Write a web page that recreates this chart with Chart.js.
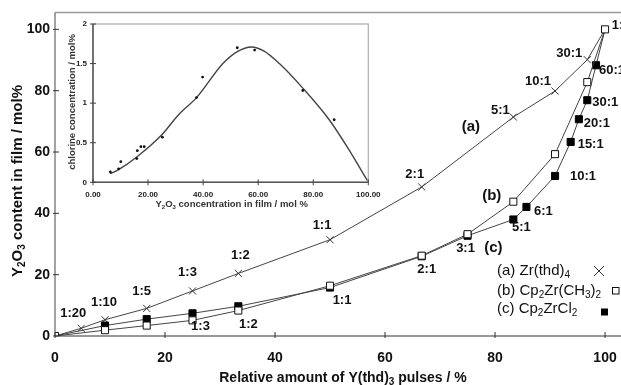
<!DOCTYPE html>
<html>
<head>
<meta charset="utf-8">
<script src="https://cdn.jsdelivr.net/npm/chart.js@4.4.1/dist/chart.umd.min.js"></script>
<style>
  html, body { margin: 0; padding: 0; background: #fff; }
  #wrap { position: relative; width: 621px; height: 385px; overflow: hidden; }
  #main { position: absolute; left: 0; top: 0; }
  #inset { position: absolute; left: 60px; top: 18px; }
</style>
</head>
<body>
<div id="wrap">
  <canvas id="main" width="621" height="385"></canvas>
  <canvas id="inset" width="335" height="195"></canvas>
</div>
<script>
// --- MAIN CHART DATA ---
const xTicks = [0, 20, 40, 60, 80, 100];
const yTicks = [0, 20, 40, 60, 80, 100];

// (a) Zr(thd)4
const xA = [0, 4.76, 9.09, 16.67, 25, 33.33, 50, 66.67, 83.33, 90.91, 96.77, 100];
const yA = [0, 2.5, 5.3, 9.0, 14.7, 20.4, 31.4, 48.6, 71.4, 79.9, 90.1, 100];
const labelsA = ['', '1:20', '1:10', '1:5', '1:3', '1:2', '1:1', '2:1', '5:1', '10:1', '30:1', '1:0'];

// (b) Cp2Zr(CH3)2
const xB = [0, 9.09, 16.67, 25, 33.33, 50, 66.67, 75, 83.33, 90.91, 96.77, 100];
const yB = [0, 1.9, 3.4, 5.1, 8.3, 16.4, 26.2, 33.2, 43.8, 59.3, 82.8, 100];
const labelsB = ['', '', '', '1:3', '1:2', '1:1', '2:1', '3:1', '', '', '', ''];

// (c) Cp2ZrCl2
const xC = [0, 9.09, 16.67, 25, 33.33, 50, 66.67, 75, 83.33, 85.71, 90.91, 93.75, 95.24, 96.77, 98.36, 100];
const yC = [0, 3.4, 5.5, 7.4, 9.7, 15.8, 26.0, 32.7, 38.0, 42.1, 52.2, 63.3, 70.7, 76.9, 88.3, 100];
const labelsC = ['', '', '', '', '', '', '', '', '5:1', '6:1', '10:1', '15:1', '20:1', '30:1', '60:1', ''];

// curve tags, in data units
const tagText = ['(a)', '(b)', '(c)'];
const tagX = [75.6, 79.4, 79.7];
const tagY = [68.2, 45.6, 28.6];

const legendText = ['(a) Zr(thd)_4', '(b) Cp_2Zr(CH_3)_2', '(c) Cp_2ZrCl_2'];

// --- INSET DATA (chlorine content) ---
const insetXTicks = [0, 20, 40, 60, 80, 100];
const insetYTicks = [0, 0.5, 1, 1.5, 2];
const dotX = [6.3, 9.3, 10.1, 15.9, 16.1, 17.4, 18.6, 25.2, 37.6, 39.8, 52.4, 58.7, 76.2, 87.6];
const dotY = [0.13, 0.17, 0.26, 0.30, 0.40, 0.45, 0.45, 0.57, 1.07, 1.33, 1.70, 1.67, 1.16, 0.79];
const fitX = [6.3, 9.3, 15.9, 25, 31, 37.6, 47.2, 52.4, 57.5, 62, 67.7, 76.2, 85.8, 93, 99.7];
const fitY = [0.11, 0.16, 0.32, 0.60, 0.85, 1.07, 1.50, 1.65, 1.71, 1.66, 1.50, 1.19, 0.79, 0.41, 0.02];

const FONT = '"Liberation Sans", Arial, Helvetica, sans-serif';
Chart.defaults.font.family = FONT;
Chart.defaults.color = '#111';

const pts = (xs, ys) => xs.map((x, i) => ({ x: x, y: ys[i] }));

// text with "_3" style subscripts
function richText(ctx, str, x, y, size, bold, align) {
    const parts = [];
    str.split(/(_\d)/).forEach(s => {
        if (!s) return;
        if (s[0] === '_') parts.push([s.slice(1), true]);
        else parts.push([s, false]);
    });
    const w = bold ? 'bold ' : '';
    const big = w + size + 'px ' + FONT;
    const small = w + Math.round(size * 0.68) + 'px ' + FONT;
    let total = 0;
    parts.forEach(p => { ctx.font = p[1] ? small : big; total += ctx.measureText(p[0]).width; });
    let cx = align === 'center' ? x - total / 2 : (align === 'right' ? x - total : x);
    ctx.textAlign = 'left';
    ctx.textBaseline = 'middle';
    parts.forEach(p => {
        ctx.font = p[1] ? small : big;
        ctx.fillText(p[0], cx, y + (p[1] ? size * 0.3 : 0));
        cx += ctx.measureText(p[0]).width;
    });
}

// crossing ticks and tick labels drawn from the scales
function drawAxes(chart, xt, yt, opt) {
    const ctx = chart.ctx;
    const a = chart.chartArea;
    const xs = chart.scales.x, ys = chart.scales.y;
    ctx.lineWidth = 1;
    ctx.strokeStyle = opt.tickColor;
    xt.forEach(v => {
        const px = xs.getPixelForValue(v);
        ctx.beginPath(); ctx.moveTo(px, a.bottom - opt.tickIn); ctx.lineTo(px, a.bottom + opt.tickOut); ctx.stroke();
    });
    yt.forEach(v => {
        const py = ys.getPixelForValue(v);
        ctx.beginPath(); ctx.moveTo(a.left - opt.tickOut, py); ctx.lineTo(a.left + opt.tickIn, py); ctx.stroke();
    });
    ctx.fillStyle = opt.color;
    ctx.font = 'bold ' + opt.size + 'px ' + FONT;
    ctx.textBaseline = 'middle';
    ctx.textAlign = 'center';
    xt.forEach(v => ctx.fillText(opt.fmtX(v), xs.getPixelForValue(v), a.bottom + opt.xGap));
    ctx.textAlign = 'right';
    yt.forEach(v => ctx.fillText(opt.fmtY(v), a.left - opt.yGap, ys.getPixelForValue(v)));
}

// label offsets from their points (px)
const offA = [null, [-8, -15], [-1, -17], [-5, -17], [-5, -19], [2, -18], [-8, -14], [-7, -13], [-13, -7], [-17, -10], [-18, -6], [16, -4]];
const offB = { 3: [8, 6], 4: [10, 14], 5: [12, 15], 6: [5, 14], 7: [-2, 14] };
const offC = { 8: [8, 8], 9: [17, 5], 10: [28, 0], 11: [20, 3], 12: [18, 4], 13: [18, 2], 14: [16, 5] };

const mainDeco = {
    id: 'mainDeco',
    afterDraw(chart) {
        const ctx = chart.ctx;
        const a = chart.chartArea;
        const xs = chart.scales.x, ys = chart.scales.y;
        ctx.save();

        // frame
        ctx.strokeStyle = '#999';
        ctx.lineWidth = 1.5;
        ctx.beginPath(); ctx.moveTo(a.left, a.top); ctx.lineTo(chart.width, a.top); ctx.stroke();
        ctx.strokeStyle = '#666';
        ctx.lineWidth = 1.2;
        ctx.beginPath(); ctx.moveTo(a.left, a.top); ctx.lineTo(a.left, a.bottom); ctx.stroke();
        ctx.strokeStyle = '#333';
        ctx.beginPath(); ctx.moveTo(a.left, a.bottom); ctx.lineTo(chart.width, a.bottom); ctx.stroke();
        drawAxes(chart, xTicks, yTicks, {
            tickColor: '#333', tickIn: 4, tickOut: 2, color: '#111', size: 14,
            xGap: 22, yGap: 5, fmtX: String, fmtY: String
        });

        // ratio labels
        ctx.fillStyle = '#111';
        ctx.font = 'bold 13px ' + FONT;
        ctx.textAlign = 'center';
        ctx.textBaseline = 'middle';
        const put = (di, labels, off) => {
            const meta = chart.getDatasetMeta(di);
            labels.forEach((t, i) => {
                if (!t || !off[i]) return;
                const el = meta.data[i];
                ctx.fillText(t, el.x + off[i][0], el.y + off[i][1]);
            });
        };
        put(2, labelsA, offA);
        put(0, labelsB, offB);
        put(1, labelsC, offC);

        // curve tags
        ctx.font = 'bold 15px ' + FONT;
        tagText.forEach((t, i) => {
            ctx.fillText(t, xs.getPixelForValue(tagX[i]), ys.getPixelForValue(tagY[i]));
        });

        // legend
        const lx = a.right - 124;
        const rows = [a.bottom - 65, a.bottom - 45.5, a.bottom - 27];
        ctx.fillStyle = '#111';
        legendText.forEach((t, i) => richText(ctx, t, lx, rows[i], 15, false, 'left'));
        ctx.strokeStyle = '#333';
        ctx.lineWidth = 1;
        const mx = a.right - 22;
        ctx.beginPath();
        ctx.moveTo(mx - 5, rows[0] - 5); ctx.lineTo(mx + 5, rows[0] + 5);
        ctx.moveTo(mx + 5, rows[0] - 5); ctx.lineTo(mx - 5, rows[0] + 5);
        ctx.stroke();
        ctx.fillStyle = '#fff';
        ctx.strokeStyle = '#111';
        ctx.fillRect(a.right - 8.5, rows[1] - 3, 6.5, 6.5);
        ctx.strokeRect(a.right - 8.5, rows[1] - 3, 6.5, 6.5);
        ctx.fillStyle = '#000';
        ctx.fillRect(a.right - 20, rows[2] - 0.5, 7, 7);

        // axis titles
        ctx.fillStyle = '#111';
        richText(ctx, 'Relative amount of Y(thd)_3 pulses / %', 343, 378, 14, true, 'center');
        ctx.translate(18, 181);
        ctx.rotate(-Math.PI / 2);
        richText(ctx, 'Y_2O_3 content in film / mol%', 0, 0, 15, true, 'center');
        ctx.restore();
    }
};

const hideEnds = n => (c => (c.dataIndex === 0 || c.dataIndex === n - 1) ? 0 : 5);

new Chart(document.getElementById('main'), {
    type: 'line',
    data: {
        datasets: [
            {
                data: pts(xB, yB), borderColor: '#444', borderWidth: 1,
                pointStyle: 'rect', pointRadius: 5, pointBorderColor: '#111',
                pointBackgroundColor: '#fff', pointBorderWidth: 1
            },
            {
                data: pts(xC, yC), borderColor: '#444', borderWidth: 1,
                pointStyle: 'rect', pointRadius: hideEnds(xC.length), pointBorderColor: '#000',
                pointBackgroundColor: '#000', pointBorderWidth: 1
            },
            {
                data: pts(xA, yA), borderColor: '#444', borderWidth: 1,
                pointStyle: 'crossRot', pointRadius: hideEnds(xA.length), pointBorderColor: '#333',
                pointBorderWidth: 1
            }
        ]
    },
    options: {
        responsive: false,
        animation: false,
        devicePixelRatio: 1,
        layout: { autoPadding: false, padding: { top: 12.5, right: 0, left: 0, bottom: 0 } },
        plugins: { legend: { display: false }, tooltip: { enabled: false } },
        scales: {
            x: {
                type: 'linear', min: 0, max: 102.9,
                grid: { display: false }, border: { display: false },
                ticks: { display: false },
                afterBuildTicks: s => { s.ticks = xTicks.map(v => ({ value: v })); },
                afterFit: s => { s.height = 49; }
            },
            y: {
                min: 0, max: 105.5,
                grid: { display: false }, border: { display: false },
                ticks: { display: false },
                afterBuildTicks: s => { s.ticks = yTicks.map(v => ({ value: v })); },
                afterFit: s => { s.width = 55; }
            }
        }
    },
    plugins: [mainDeco]
});

// --- INSET ---
const insetDeco = {
    id: 'insetDeco',
    afterDraw(chart) {
        const ctx = chart.ctx;
        const a = chart.chartArea;
        ctx.save();
        ctx.strokeStyle = '#aaa';
        ctx.lineWidth = 1.2;
        ctx.strokeRect(a.left, a.top, a.right - a.left, a.bottom - a.top);
        ctx.strokeStyle = '#555';
        ctx.lineWidth = 1.5;
        ctx.beginPath();
        ctx.moveTo(a.left, a.top); ctx.lineTo(a.left, a.bottom); ctx.lineTo(a.right, a.bottom);
        ctx.stroke();
        drawAxes(chart, insetXTicks, insetYTicks, {
            tickColor: '#444', tickIn: 3, tickOut: 3, color: '#222', size: 8,
            xGap: 12, yGap: 6, fmtX: v => v.toFixed(2), fmtY: String
        });
        ctx.fillStyle = '#333';
        richText(ctx, 'Y_2O_3 concentration in film / mol %', 171.7, 186, 9.5, true, 'center');
        ctx.translate(12, 84);
        ctx.rotate(-Math.PI / 2);
        richText(ctx, 'chlorine concentration / mol%', 0, 0, 9.5, true, 'center');
        ctx.restore();
    }
};

new Chart(document.getElementById('inset'), {
    type: 'line',
    data: {
        datasets: [
            {
                data: pts(dotX, dotY), showLine: false, pointRadius: 1.4,
                pointBackgroundColor: '#111', pointBorderWidth: 0
            },
            {
                data: pts(fitX, fitY), borderColor: '#444', borderWidth: 1.4,
                pointRadius: 0, cubicInterpolationMode: 'monotone'
            }
        ]
    },
    options: {
        responsive: false,
        animation: false,
        devicePixelRatio: 1,
        layout: { autoPadding: false, padding: { top: 6, right: 26.7, left: 0, bottom: 0 } },
        plugins: { legend: { display: false }, tooltip: { enabled: false } },
        scales: {
            x: {
                type: 'linear', min: 0, max: 100,
                grid: { display: false }, border: { display: false },
                ticks: { display: false },
                afterBuildTicks: s => { s.ticks = insetXTicks.map(v => ({ value: v })); },
                afterFit: s => { s.height = 30.7; }
            },
            y: {
                min: 0, max: 2,
                grid: { display: false }, border: { display: false },
                ticks: { display: false },
                afterBuildTicks: s => { s.ticks = insetYTicks.map(v => ({ value: v })); },
                afterFit: s => { s.width = 33; }
            }
        }
    },
    plugins: [insetDeco]
});
</script>
</body>
</html>
